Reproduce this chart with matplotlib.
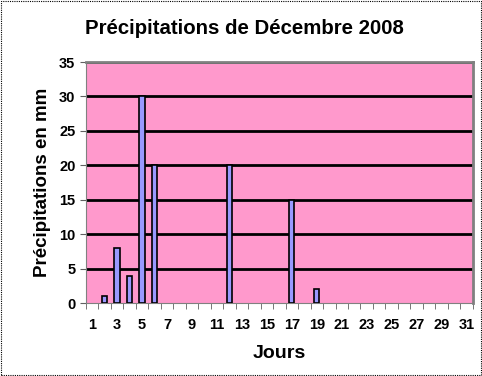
import matplotlib
matplotlib.use("Agg")
from matplotlib import pyplot as plt
import numpy as np

plt.rcParams['font.family'] = ['Liberation Sans', 'DejaVu Sans']

rain_days = [2, 3, 4, 5, 6, 12, 17, 19]
rain_mm = [1, 8, 4, 30, 20, 20, 15, 2]
xtick_labels = [str(d) for d in range(1, 32, 2)]
yticks = [0, 5, 10, 15, 20, 25, 30, 35]

fig = plt.figure(figsize=(4.82, 3.76), dpi=100)
ax = fig.add_axes([0.178, 0.194, 0.803, 0.641])
ax.set_facecolor('#FF99CC')

for y in yticks[1:]:
    ax.axhline(y, color='black', lw=2, zorder=1)

ax.bar(rain_days, rain_mm, width=0.42, color='#9999FF', edgecolor='black', lw=1.2, zorder=3)

ax.set_xlim(0.5, 31.5)
ax.set_ylim(0, 35)
ax.set_yticks(yticks)
ax.set_yticklabels([str(y) for y in yticks], fontsize=10.5, fontweight='bold')
ax.set_xticks(range(1, 32, 2))
ax.set_xticklabels(xtick_labels, fontsize=10.5, fontweight='bold')
ax.set_xticks(np.arange(0.5, 32, 1), minor=True)
ax.tick_params(axis='x', which='major', length=0, pad=11)
ax.tick_params(axis='x', which='minor', length=4, direction='out', color='#606060')
ax.tick_params(axis='y', length=4, direction='out', color='#606060')

for s in ['top', 'right']:
    ax.spines[s].set_color('#808080')
    ax.spines[s].set_linewidth(2)
ax.spines['left'].set_color('#808080')
ax.spines['bottom'].set_color('#808080')

ax.set_xlabel('Jours', fontsize=14, fontweight='bold', labelpad=9)
ax.set_ylabel('Précipitations en mm', fontsize=13.5, fontweight='bold', labelpad=6)
fig.text(0.508, 0.925, 'Précipitations de Décembre 2008', ha='center', va='center',
         fontsize=14.7, fontweight='bold')

border = plt.Rectangle((0.002, 0.003), 0.995, 0.994, transform=fig.transFigure,
                       fill=False, ec='black', lw=0.8, ls=(0, (1, 1)))
fig.patches.append(border)

fig.savefig('out.png', dpi=100)
